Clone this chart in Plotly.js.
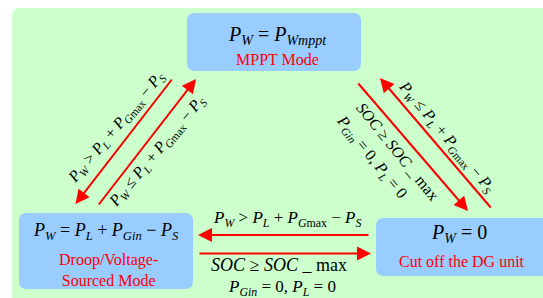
<!DOCTYPE html>
<html><head><meta charset="utf-8">
<script src="https://cdn.plot.ly/plotly-3.0.1.min.js"></script>
<style>html,body{margin:0;padding:0;background:#fff}#c{width:543px;height:298px}</style>
</head><body><div id="c"></div>
<script>
// Diagram content (text)
const nodeFormulas = [
  "<i>P</i><sub><i>W</i></sub> = <i>P</i><sub><i>Wmppt</i></sub>",
  "<i>P</i><sub><i>W</i></sub> = <i>P</i><sub><i>L</i></sub> + <i>P</i><sub><i>Gin</i></sub> − <i>P</i><sub><i>S</i></sub>",
  "<i>P</i><sub><i>W</i></sub> = 0"
];
const nodeModes = ["MPPT Mode", "Droop/Voltage-<br>Sourced Mode", "Cut off the DG unit"];
const condOver = "<i>P</i><sub><i>W</i></sub> > <i>P</i><sub><i>L</i></sub> + <i>P</i><sub><i>G</i>max</sub> − <i>P</i><sub><i>S</i></sub>";
const condUnder = "<i>P</i><sub><i>W</i></sub> ≤ <i>P</i><sub><i>L</i></sub> + <i>P</i><sub><i>G</i>max</sub> − <i>P</i><sub><i>S</i></sub>";
const condSoc = "<i>SOC</i> ≥ <i>SOC</i> _ max";
const condZero = "<i>P</i><sub><i>Gin</i></sub> = 0, <i>P</i><sub><i>L</i></sub> = 0";

const serif = "Liberation Serif, Times New Roman, serif";
const RED = "#ff0000";

function rrect(x0, y0, x1, y1, r) {
  return `M${x0+r},${y0} H${x1-r} Q${x1},${y0} ${x1},${y0+r} V${y1-r} Q${x1},${y1} ${x1-r},${y1} H${x0+r} Q${x0},${y1} ${x0},${y1-r} V${y0+r} Q${x0},${y0} ${x0+r},${y0} Z`;
}

const shapes = [
  {type:"path", path: rrect(12, 8, 570, 320, 8), fillcolor:"#ccffcc", line:{width:0}, layer:"below"},
  {type:"path", path: rrect(187, 13, 361, 71, 8), fillcolor:"#99ccff", line:{width:0}, layer:"below"},
  {type:"path", path: rrect(19, 213, 193, 289, 8), fillcolor:"#99ccff", line:{width:0}, layer:"below"},
  {type:"path", path: rrect(376, 218, 570, 276, 8), fillcolor:"#99ccff", line:{width:0}, layer:"below"}
];

function txt(x, y, text, size, color, angle) {
  return {x, y, xref:"x", yref:"y", text, showarrow:false, xanchor:"center", yanchor:"middle",
    textangle: angle || 0, font:{family:serif, size, color: color || "#000"}};
}
function arrow(tx, ty, hx, hy) {
  return {x:hx, y:hy, ax:tx, ay:ty, xref:"x", yref:"y", axref:"x", ayref:"y", text:"",
    showarrow:true, arrowhead:2, arrowsize:1.4, arrowwidth:2, arrowcolor:RED, standoff:0, startstandoff:0};
}

const annotations = [
  txt(277, 35, nodeFormulas[0], 20),
  txt(277, 59, nodeModes[0], 16, RED),
  txt(106, 231, nodeFormulas[1], 18),
  txt(108, 270, nodeModes[1], 16, RED),
  txt(459, 233, nodeFormulas[2], 20),
  txt(462, 261, nodeModes[2], 16, RED),
  // horizontal
  arrow(370, 235, 198, 235),
  arrow(198, 253.5, 371, 253.5),
  txt(287, 219, condOver, 17),
  txt(279, 265, condSoc, 18),
  txt(282, 288, condZero, 17),
  // left diagonals
  arrow(173, 78, 75.5, 204),
  arrow(97.6, 206, 196, 79),
  txt(116, 127, condOver, 16, "#000", -50),
  txt(157, 151, condUnder, 16, "#000", -50),
  // right diagonals
  arrow(357, 82, 468, 211),
  arrow(492, 209, 380, 78),
  txt(447, 137, condUnder, 16, "#000", 50),
  txt(398, 151, condSoc, 16, "#000", 51),
  txt(372, 157, condZero, 16, "#000", 51)
];

const layout = {
  width:543, height:298, margin:{l:0,r:0,t:0,b:0},
  paper_bgcolor:"#fff", plot_bgcolor:"#fff",
  xaxis:{range:[0,543], visible:false, fixedrange:true},
  yaxis:{range:[298,0], visible:false, fixedrange:true},
  showlegend:false, shapes, annotations
};
Plotly.newPlot("c", [{x:[0], y:[0], mode:"markers", marker:{opacity:0}, hoverinfo:"skip"}], layout, {staticPlot:true, displayModeBar:false});
</script></body></html>
